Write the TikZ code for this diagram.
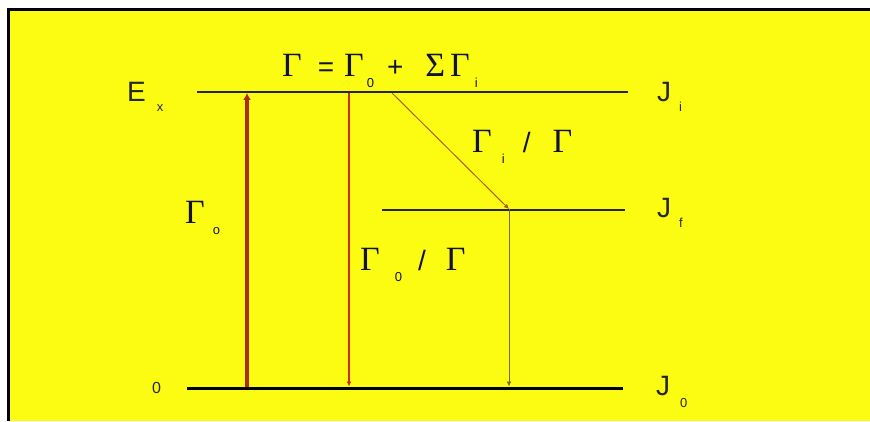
\documentclass[tikz,border=0pt]{standalone}
\usepackage{fontspec}
\setmainfont{Liberation Sans}
\newfontfamily\gammafont{Liberation Serif}
\usetikzlibrary{arrows.meta,positioning,calc}
\definecolor{bgyellow}{RGB}{252,252,18}
\definecolor{excite}{RGB}{172,45,15}
\definecolor{direct}{RGB}{205,45,20}
\definecolor{cascade}{RGB}{170,95,25}
\definecolor{feed}{RGB}{125,100,20}
\definecolor{gammatext}{RGB}{18,18,55}
\tikzset{
	level/.style={draw=black!85, line width=1.5pt},
	groundlevel/.style={draw=black, line width=3pt},
	decay/.style={-{Latex[length=5pt,width=5pt]}},
	spinlabel/.style={font=\fontsize{28}{30}\selectfont, text=black!85, inner sep=0pt, anchor=base west},
	gammalabel/.style={font=\gammafont\fontsize{34}{36}\selectfont, text=gammatext, inner sep=0pt, anchor=base west}
}
\newcommand{\lowsub}[2]{\raisebox{#1}{\fontfamily{\familydefault}\fontsize{13}{13}\selectfont #2}}
\newcommand{\midsign}[1]{{\fontfamily{\familydefault}\fontsize{28}{28}\selectfont #1}}

\begin{document}
\begin{tikzpicture}[x=1pt, y=1pt]
	
	%% -- Frame: white margin, black edge, yellow field
	\useasboundingbox (0,0) rectangle (870,421);
	\fill[white] (0,0) rectangle (870,421);
	\fill[bgyellow] (9,0) rectangle (870,411);
	\draw[black, line width=2.5pt] (8.5,0) -- (8.5,411.5) -- (870,411.5);
	
	%% -- Level end points
	\coordinate (ji-l) at (197,329);
	\coordinate (ji-r) at (628,329);
	\coordinate (jf-l) at (382,211);
	\coordinate (jf-r) at (625,211);
	\coordinate (j0-l) at (187,33);
	\coordinate (j0-r) at (623,33);
	
	%% -- Levels
	\draw[level] (ji-l) -- (ji-r);
	\draw[level] (jf-l) -- (jf-r);
	\draw[groundlevel] (j0-l) -- (j0-r);
	
	%% -- Transition end points
	\coordinate (up-b) at (247,34.5);
	\coordinate (up-t) at (247,328);
	\coordinate (dn-t) at (349,328);
	\coordinate (dn-b) at (349,34.5);
	\coordinate (cs-t) at (392,328);
	\coordinate (cs-b) at (509,212);
	\coordinate (fd-b) at (509,34.5);
	
	%% -- Transitions
	\draw[-{Latex[length=7pt,width=8pt]}, excite, line width=3.5pt] (up-b) -- (up-t);
	\draw[decay, direct, line width=2pt] (dn-t) -- (dn-b);
	\draw[decay, cascade, line width=1pt] (cs-t) -- (cs-b);
	\draw[decay, feed, line width=1pt] (cs-b) -- (fd-b);
	
	%% -- Level labels
	\node[spinlabel] (ex) at (127,319) {E\hspace{11pt}\lowsub{-10pt}{x}};
	\node[spinlabel, font=\fontsize{16}{18}\selectfont] (zero) at (152,28) {0};
	\node[spinlabel] (ji) at (657,319) {J\hspace{8pt}\lowsub{-10pt}{i}};
	\node[spinlabel] (jf) at (657,204) {J\hspace{8pt}\lowsub{-10pt}{f}};
	\node[spinlabel] (j0) at (656,26) {J\hspace{10pt}\lowsub{-12pt}{0}};
	
	%% -- Width labels
	\node[gammalabel] (total) at (282,344)
	{Γ\hspace{16pt}\midsign{=}\hspace{10pt}Γ\hspace{3pt}\lowsub{-11pt}{0}\hspace{13pt}\midsign{+}\hspace{22pt}Σ\hspace{5pt}Γ\hspace{5pt}\lowsub{-11pt}{i}};
	\node[gammalabel] (g0) at (185,198) {Γ\hspace{8pt}\lowsub{-11pt}{o}};
	\node[gammalabel] (g0ratio) at (360,151) {Γ\hspace{15pt}\lowsub{-11pt}{0}\hspace{16pt}\midsign{/}\hspace{20pt}Γ};
	\node[gammalabel] (giratio) at (472,268) {Γ\hspace{10pt}\lowsub{-11pt}{i}\hspace{18pt}\midsign{/}\hspace{22pt}Γ};
	
\end{tikzpicture}
\end{document}
